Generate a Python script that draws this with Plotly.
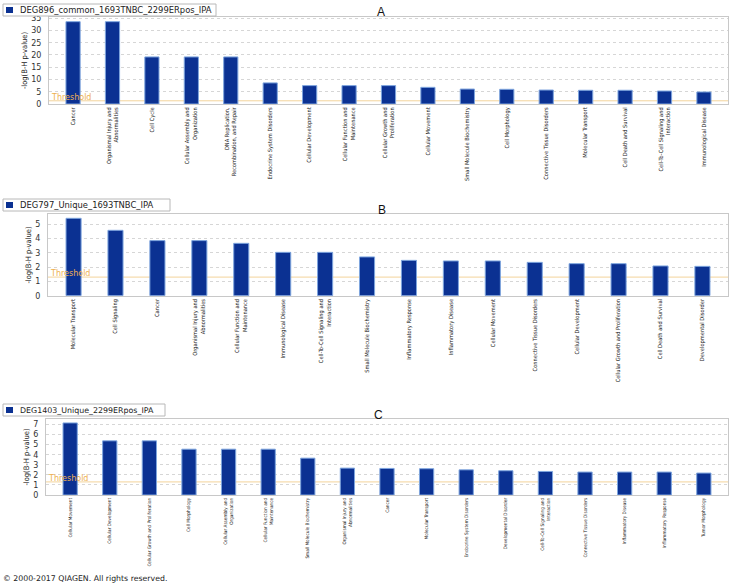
import plotly.graph_objects as go

# ---------------- data ----------------
threshold = 1.3

a_series = "DEG896_common_1693TNBC_2299ERpos_IPA"
a_categories = [
    "Cancer", "Organismal Injury and<br>Abnormalities", "Cell Cycle",
    "Cellular Assembly and<br>Organization", "DNA Replication,<br>Recombination, and Repair",
    "Endocrine System Disorders", "Cellular Development", "Cellular Function and<br>Maintenance",
    "Cellular Growth and<br>Proliferation", "Cellular Movement", "Small Molecule Biochemistry",
    "Cell Morphology", "Connective Tissue Disorders", "Molecular Transport",
    "Cell Death and Survival", "Cell-To-Cell Signaling and<br>Interaction", "Immunological Disease",
]
a_values = [33.6, 33.6, 19.2, 19.2, 19.2, 8.6, 7.5, 7.5, 7.5, 6.8, 6.1, 6.0, 5.7, 5.6, 5.6, 5.3, 4.9]

b_series = "DEG797_Unique_1693TNBC_IPA"
b_categories = [
    "Molecular Transport", "Cell Signaling", "Cancer", "Organismal Injury and<br>Abnormalities",
    "Cellular Function and<br>Maintenance", "Immunological Disease",
    "Cell-To-Cell Signaling and<br>Interaction", "Small Molecule Biochemistry",
    "Inflammatory Response", "Inflammatory Disease", "Cellular Movement",
    "Connective Tissue Disorders", "Cellular Development", "Cellular Growth and Proliferation",
    "Cell Death and Survival", "Developmental Disorder",
]
b_values = [5.41, 4.57, 3.85, 3.85, 3.66, 3.03, 3.03, 2.71, 2.47, 2.43, 2.43, 2.33, 2.24, 2.24, 2.08, 2.05]

c_series = "DEG1403_Unique_2299ERpos_IPA"
c_categories = [
    "Cellular Movement", "Cellular Development", "Cellular Growth and Proliferation",
    "Cell Morphology", "Cellular Assembly and<br>Organization", "Cellular Function and<br>Maintenance",
    "Small Molecule Biochemistry", "Organismal Injury and<br>Abnormalities", "Cancer",
    "Molecular Transport", "Endocrine System Disorders", "Developmental Disorder",
    "Cell-To-Cell Signaling and<br>Interaction", "Connective Tissue Disorders",
    "Inflammatory Disease", "Inflammatory Response", "Tumor Morphology",
]
c_values = [7.16, 5.38, 5.38, 4.55, 4.55, 4.55, 3.66, 2.67, 2.64, 2.61, 2.5, 2.41, 2.34, 2.28, 2.28, 2.28, 2.18]

a_ticks = [0, 5, 10, 15, 20, 25, 30, 35]
b_ticks = [0, 1, 2, 3, 4, 5]
c_ticks = [0, 1, 2, 3, 4, 5, 6, 7]

panel_labels = ["A", "B", "C"]
y_title = "-log(B-H p-value)"
threshold_label = "Threshold"
copyright_text = "© 2000-2017 QIAGEN. All rights reserved."

# ---------------- figure ----------------
W, H = 736, 588
BAR = "#0b3192"
EDGE = "#7ea5de"
NARROW = "DejaVu Sans Condensed, Liberation Sans Narrow, sans-serif"
WIDE = "DejaVu Sans, Verdana, sans-serif"


def px_x(p):
    return p / W


def px_y(p):  # pixel from top -> paper y
    return 1 - p / H


panels = [
    dict(series=a_series, cats=a_categories, vals=a_values, ticks=a_ticks,
         left=49, top=17, bottom=104, ymax=35.5, tick_size=5.7,
         legbox=(3, 4, 216, 16), legfont=8.4, label=(381, 12)),
    dict(series=b_series, cats=b_categories, vals=b_values, ticks=b_ticks,
         left=48, top=214.3, bottom=295.7, ymax=5.69, tick_size=5.7,
         legbox=(3, 199, 170, 211), legfont=8.4, label=(382, 210)),
    dict(series=c_series, cats=c_categories, vals=c_values, ticks=c_ticks,
         left=46, top=419, bottom=495, ymax=7.55, tick_size=4.7,
         legbox=(3, 404, 165, 416), legfont=7.9, label=(378, 415)),
]

fig = go.Figure()
layout = dict(
    width=W, height=H, margin=dict(l=0, r=0, t=0, b=0, autoexpand=False),
    paper_bgcolor="white", plot_bgcolor="white",
    showlegend=False, annotations=[], shapes=[],
)

for i, p in enumerate(panels):
    n = i + 1
    xa = "x" if n == 1 else f"x{n}"
    ya = "y" if n == 1 else f"y{n}"
    fig.add_trace(go.Bar(
        x=p["cats"], y=p["vals"], name=p["series"], xaxis=xa, yaxis=ya,
        marker=dict(color=BAR, line=dict(color=EDGE, width=1)),
        width=0.36,
    ))
    xkey = "xaxis" if n == 1 else f"xaxis{n}"
    ykey = "yaxis" if n == 1 else f"yaxis{n}"
    ncat = len(p["cats"])
    layout[xkey] = dict(
        domain=[px_x(p["left"]), px_x(728)], anchor=ya,
        type="category", range=[-0.61, ncat - 1 + 0.61],
        tickangle=-90, tickfont=dict(family=NARROW, size=p["tick_size"], color="#222"),
        showline=True, linecolor="#c8c8c8", linewidth=1, mirror=True,
        showgrid=False, ticks="", fixedrange=True, automargin=False,
    )
    layout[ykey] = dict(
        domain=[px_y(p["bottom"]), px_y(p["top"])], anchor=xa,
        range=[0, p["ymax"]], tickvals=p["ticks"],
        tickfont=dict(family=WIDE, size=8, color="#333"),
        ticklabelstandoff=5,
        showline=True, linecolor="#c8c8c8", linewidth=1, mirror=True,
        showgrid=True, gridcolor="#d6d6d6", griddash="dot", gridwidth=1,
        zeroline=False, ticks="", automargin=False,
        title=dict(text=y_title, font=dict(family=NARROW, size=7.5, color="#222"), standoff=2),
    )
    # threshold line (drawn behind the bars) and label
    layout["shapes"].append(dict(
        type="line", xref=f"{xa} domain", yref=ya, x0=0, x1=1, y0=threshold, y1=threshold,
        line=dict(color="#f3d39a", width=1), layer="below",
    ))
    layout["annotations"].append(dict(
        xref=f"{xa} domain", yref=ya, x=0, y=threshold, xanchor="left", yanchor="bottom",
        text=threshold_label, showarrow=False, yshift=-3, xshift=0,
        font=dict(family=WIDE, size=8, color="#eeb050"),
    ))
    # legend-style box: frame, colour swatch, series name
    x0, y0, x1, y1 = p["legbox"]
    layout["shapes"].append(dict(
        type="rect", xref="paper", yref="paper",
        x0=px_x(x0), x1=px_x(x1), y0=px_y(y1), y1=px_y(y0),
        line=dict(color="#b8b8b8", width=1), fillcolor="white", layer="above",
    ))
    cy = (y0 + y1) / 2
    layout["shapes"].append(dict(
        type="rect", xref="paper", yref="paper",
        x0=px_x(x0 + 3), x1=px_x(x0 + 10), y0=px_y(cy + 3), y1=px_y(cy - 3),
        line=dict(color=BAR, width=0), fillcolor=BAR, layer="above",
    ))
    layout["annotations"].append(dict(
        xref="paper", yref="paper", x=px_x(x0 + 15), y=px_y(cy), xanchor="left", yanchor="middle",
        text=p["series"], showarrow=False,
        font=dict(family=WIDE, size=p["legfont"], color="#222"),
    ))
    # panel letter
    lx, ly = p["label"]
    layout["annotations"].append(dict(
        xref="paper", yref="paper", x=px_x(lx), y=px_y(ly), xanchor="center", yanchor="middle",
        text=panel_labels[i], showarrow=False,
        font=dict(family="Arial, Liberation Sans", size=12, color="#111"),
    ))

layout["annotations"].append(dict(
    xref="paper", yref="paper", x=px_x(1), y=px_y(578), xanchor="left", yanchor="middle",
    text=copyright_text, showarrow=False, font=dict(family=WIDE, size=7.8, color="#222"),
))

fig.update_layout(**layout)
fig.write_html("out.html", config={"displayModeBar": False},
               post_script="document.body.style.margin='0';")
